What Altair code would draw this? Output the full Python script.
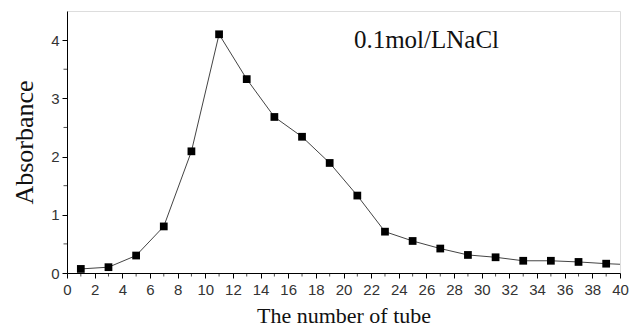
import altair as alt
import pandas as pd

tube = [1, 3, 5, 7, 9, 11, 13, 15, 17, 19, 21, 23, 25, 27, 29, 31, 33, 35, 37, 39]
absorbance = [0.07, 0.10, 0.30, 0.80, 2.09, 4.10, 3.33, 2.68, 2.34, 1.89, 1.33, 0.71,
              0.55, 0.42, 0.31, 0.27, 0.21, 0.21, 0.19, 0.16]
# the curve runs on past the right edge of the frame
tail_tube = [39, 41]
tail_abs = [0.16, 0.14]
x_ticks = list(range(0, 41, 2))
x_minor = list(range(1, 40, 2))
y_ticks = [0, 1, 2, 3, 4]
y_minor = [0.5, 1.5, 2.5, 3.5]
label_text = ["0.1mol/LNaCl"]
label_x = [26]
label_y = [4.0]

df = pd.DataFrame({"tube": tube, "abs": absorbance})
tail = pd.DataFrame({"tube": tail_tube, "abs": tail_abs})
lab = pd.DataFrame({"t": label_text, "x": label_x, "y": label_y})
mx = pd.DataFrame({"m": x_minor, "lo": [0.0] * len(x_minor)})
my = pd.DataFrame({"m": y_minor, "lo": [0.0] * len(y_minor)})

xscale = alt.Scale(domain=[0, 40], nice=False, zero=False)
yscale = alt.Scale(domain=[0, 4.5], nice=False)

xaxis = alt.Axis(values=x_ticks, title="The number of tube", grid=False,
                 labelFont="Liberation Sans", labelFontSize=15, labelColor="#333",
                 labelOverlap=False, labelFlush=False,
                 titleFont="Liberation Serif", titleFontSize=22, titleFontWeight="normal",
                 titleColor="#111", tickSize=5, tickColor="#000", domainColor="#000",
                 labelPadding=4, titlePadding=8)
yaxis = alt.Axis(values=y_ticks, format="d", title="Absorbance", grid=False,
                 labelFont="Liberation Sans", labelFontSize=15, labelColor="#333",
                 titleFont="Liberation Serif", titleFontSize=26, titleFontWeight="normal",
                 titleColor="#111", tickSize=5, tickColor="#000", domainColor="#000",
                 labelPadding=3, titlePadding=13)

X = lambda f: alt.X(f, type="quantitative", scale=xscale, axis=xaxis)
Y = lambda f: alt.Y(f, type="quantitative", scale=yscale, axis=yaxis)

line = alt.Chart(df).mark_line(color="#444", strokeWidth=1).encode(x=X("tube"), y=Y("abs"))
tail_line = alt.Chart(tail).mark_line(color="#444", strokeWidth=1, clip=True).encode(
    x=X("tube"), y=Y("abs"))
pts = alt.Chart(df).mark_point(shape="square", filled=True, color="#000", size=60, opacity=1).encode(
    x=X("tube"), y=Y("abs"))
# minor ticks: short dashes just outside the axis lines
minor_x = alt.Chart(mx).mark_tick(color="#000", thickness=1, size=3.5, orient="vertical",
                                  yOffset=1.75).encode(
    x=X("m"), y=Y("lo"))
minor_y = alt.Chart(my).mark_tick(color="#000", thickness=1, size=3.5, orient="horizontal",
                                  xOffset=-1.75).encode(
    y=Y("m"), x=X("lo"))
text = alt.Chart(lab).mark_text(font="Liberation Serif", fontSize=25, color="#111").encode(
    x=X("x"), y=Y("y"), text="t:N")

chart = alt.layer(tail_line, line, pts, minor_x, minor_y, text).properties(
    width=553, height=262,
    autosize=alt.AutoSizeParams(type="none"),
    padding={"left": 67, "top": 11, "right": 11, "bottom": 61},
).configure_view(stroke="#000", strokeWidth=1).configure(background="white")

chart.save("out.html", embed_options={"renderer": "svg", "actions": False})
